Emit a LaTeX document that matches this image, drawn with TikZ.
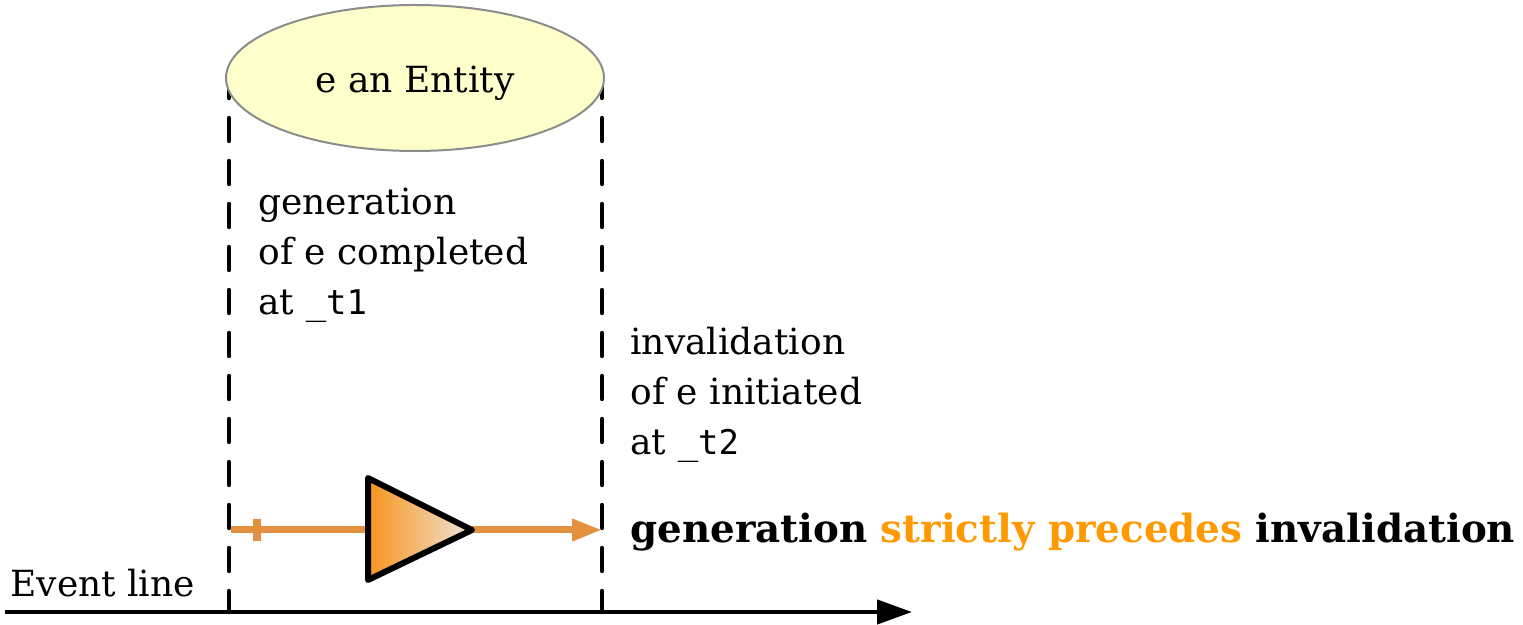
\documentclass[tikz,border=0pt]{standalone}
\usepackage{fontspec}
\setmainfont{DejaVu Serif}
\setmonofont{DejaVu Sans Mono}
\usepackage{tikz}
\usetikzlibrary{arrows.meta,shapes.geometric}
\definecolor{entityfill}{HTML}{FFFFCC}
\definecolor{entityline}{HTML}{8C8C8C}
\definecolor{flowline}{HTML}{E3913F}
\definecolor{flowtext}{HTML}{FF9900}
\definecolor{trileft}{HTML}{F7941D}
\definecolor{triright}{HTML}{EFE4D8}
\newcommand{\EvFont}[0]{\fontsize{18}{25}\selectfont}
\newcommand{\TT}[1]{{\fontsize{17}{25}\selectfont\ttfamily #1}}

\begin{document}
\begin{tikzpicture}[x=0.5pt, y=-0.5pt,
  lifeline/.style={line width=2.2pt, dash pattern=on 11.5pt off 10pt, line cap=round},
  entity/.style={ellipse, draw=entityline, line width=1pt, fill=entityfill,
    minimum width=189pt, minimum height=73pt, inner sep=0pt, font=\EvFont},
  note/.style={anchor=base west, align=left, inner sep=0pt, font=\EvFont},
  flow/.style={draw=flowline, line width=3.5pt}]

  \useasboundingbox (0,0) rectangle (1523,625);

  %% time points
  \coordinate (gtop) at (229,75);
  \coordinate (gbot) at (229,612);
  \coordinate (itop) at (602,75);
  \coordinate (ibot) at (602,612);
  \coordinate (lstart) at (5,612);
  \coordinate (lend) at (912,612);
  \coordinate (fstart) at (231,530);
  \coordinate (tbase) at (368,530);
  \coordinate (tapex) at (472,530);
  \coordinate (fend) at (602,530);

  \draw[lifeline] (gtop) -- (gbot); %% generation
  \draw[lifeline] (itop) -- (ibot); %% invalidation

  \node[entity] (ent) at (415,78) {\raisebox{-7.5pt}[0pt][0pt]{e an Entity}};

  %% event line
  \draw[line width=2.2pt, -{Triangle[length=17.5pt, width=12pt]}] (lstart) -- (lend);
  \node[note] (evl) at (10,597) {Event line};

  %% precedence
  \draw[flow] (fstart) -- coordinate[pos=0.19] (ftick) (tbase);
  \draw[flow, line width=4pt] (ftick) ++(0,-11) -- ++(0,22);
  \draw[flow, -{Triangle[length=15pt, width=10.5pt]}] (tapex) -- (fend);
  \shade[left color=trileft, right color=triright]
    (368,478) -- (tapex) -- (368,580) -- cycle;
  \draw[line width=3pt, line join=round]
    (368,478) -- (tapex) -- (368,580) -- cycle;

  %% last line sits on the given baseline
  \node[note] (gen) at (258,315) {generation\\of e completed\\at \TT{\_t1}};
  \node[note] (inv) at (630,455) {invalidation\\of e initiated\\at \TT{\_t2}};

  \node[note, font=\fontsize{19.4}{25}\selectfont] (rel) at (630,543)
    {\bfseries generation \textcolor{flowtext}{strictly precedes} invalidation};

\end{tikzpicture}
\end{document}
